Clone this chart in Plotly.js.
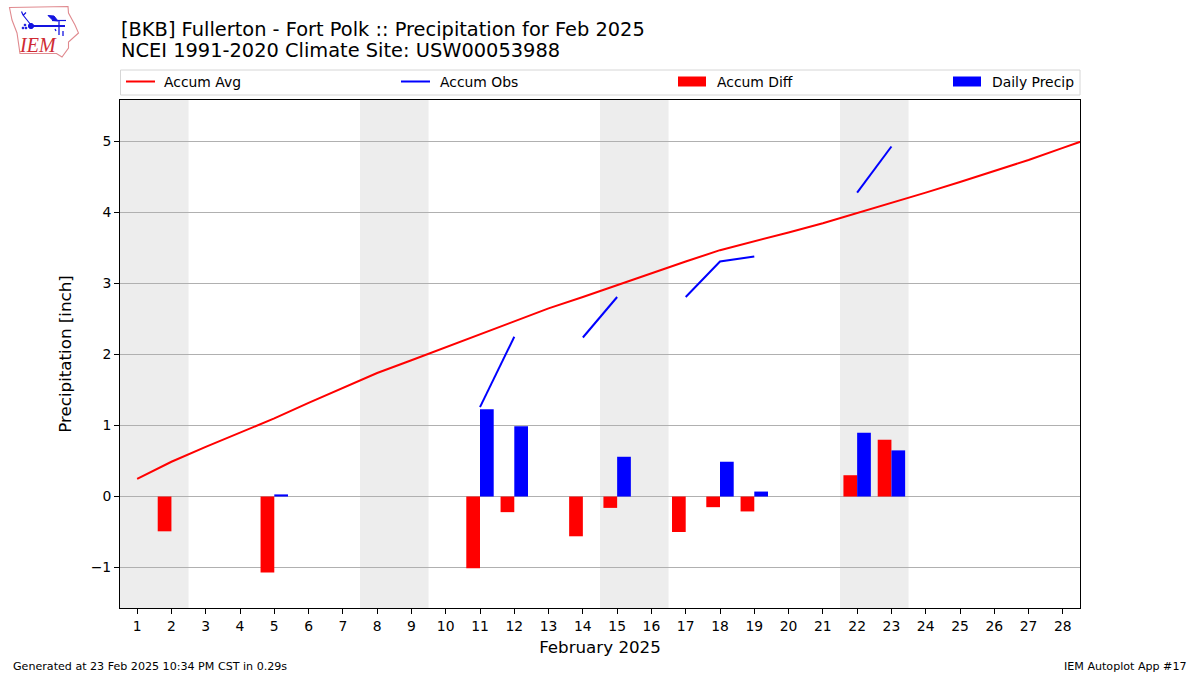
<!DOCTYPE html>
<html>
<head>
<meta charset="utf-8">
<script src="https://cdn.plot.ly/plotly-3.0.1.min.js"></script>
<style>html,body{margin:0;padding:0;background:#fff}#c{width:1200px;height:675px}</style>
</head>
<body>
<div id="c"></div>
<script>
var titleLines = ["[BKB] Fullerton - Fort Polk :: Precipitation for Feb 2025", "NCEI 1991-2020 Climate Site: USW00053988"];
var xTitle = "February 2025";
var yTitle = "Precipitation [inch]";
var footerLeft = "Generated at 23 Feb 2025 10:34 PM CST in 0.29s";
var footerRight = "IEM Autoplot App #17";
var avgDays = [1,2,3,4,5,6,7,8,9,10,11,12,13,14,15,16,17,18,19,20,21,22,23,24,25,26,27,28,29];
var accumAvg = [0.25,0.49,0.70,0.90,1.10,1.32,1.53,1.74,1.92,2.10,2.28,2.47,2.65,2.81,2.98,3.15,3.31,3.47,3.59,3.72,3.85,3.99,4.13,4.28,4.43,4.58,4.74,4.91,5.08];
var obsDays = [11,12,null,14,15,null,17,18,19,null,22,23];
var accumObs = [1.26,2.25,null,2.24,2.81,null,2.81,3.31,3.38,null,4.28,4.93];
var diffDays = [2,5,11,12,14,15,17,18,19,22,23];
var accumDiff = [-0.49,-1.07,-1.01,-0.22,-0.56,-0.16,-0.50,-0.15,-0.21,0.30,0.80];
var precipDays = [5,11,12,15,18,19,22,23];
var dailyPrecip = [0.03,1.23,0.99,0.56,0.49,0.07,0.90,0.65];
var weekendStart = [0.5,7.5,14.5,21.5];
var weekendEnd = [2.5,9.5,16.5,23.5];
var tickDays = [1,2,3,4,5,6,7,8,9,10,11,12,13,14,15,16,17,18,19,20,21,22,23,24,25,26,27,28];
var yTicks = [-1,0,1,2,3,4,5];
var yTickText = ["\u22121","0","1","2","3","4","5"];

var FONT = "DejaVu Sans";
var INK = "#000000";
var L = 120, R = 1080, T = 100, B = 608;
function px(x){ return (x - L) / (R - L); }
function py(y){ return (B - y) / (B - T); }

var traces = [
  {type:"bar", name:"Accum Diff", x:diffDays, y:accumDiff, width:0.4, offset:-0.4, marker:{color:"#ff0000",line:{width:0}}},
  {type:"bar", name:"Daily Precip", x:precipDays, y:dailyPrecip, width:0.4, offset:0, marker:{color:"#0000ff",line:{width:0}}},
  {type:"scatter", mode:"lines", name:"Accum Avg", x:avgDays, y:accumAvg, line:{color:"#ff0000",width:2}},
  {type:"scatter", mode:"lines", name:"Accum Obs", x:obsDays, y:accumObs, connectgaps:false, line:{color:"#0000ff",width:2}}
];

var shapes = [];
weekendStart.forEach(function(s,i){
  shapes.push({type:"rect",layer:"below",xref:"x",yref:"paper",x0:s,x1:weekendEnd[i],y0:0,y1:1,fillcolor:"#ededed",line:{width:0}});
});
// legend frame
shapes.push({type:"rect",layer:"above",xref:"paper",yref:"paper",x0:px(120.5),x1:px(1080),y0:py(95),y1:py(70),
  fillcolor:"#ffffff",line:{color:"#d6d6d6",width:1}});

var legendItems = [
  {label:"Accum Avg", kind:"line", color:"#ff0000", x:126, tx:164},
  {label:"Accum Obs", kind:"line", color:"#0000ff", x:401, tx:440},
  {label:"Accum Diff", kind:"bar", color:"#ff0000", x:678, tx:717},
  {label:"Daily Precip", kind:"bar", color:"#0000ff", x:953, tx:992}
];
var annotations = [];
legendItems.forEach(function(it){
  if (it.kind === "line") {
    shapes.push({type:"line",xref:"paper",yref:"paper",x0:px(it.x),x1:px(it.x+29),y0:py(81.5),y1:py(81.5),line:{color:it.color,width:2}});
  } else {
    shapes.push({type:"rect",xref:"paper",yref:"paper",x0:px(it.x),x1:px(it.x+28),y0:py(86.5),y1:py(76.5),fillcolor:it.color,line:{width:0}});
  }
  annotations.push({xref:"paper",yref:"paper",x:px(it.tx),y:py(81.5),xanchor:"left",yanchor:"middle",showarrow:false,
    text:it.label,font:{family:FONT,size:13.9,color:INK},borderpad:0,borderwidth:0});
});

function note(text,x,y,xa,ya,size,extra){
  var a = {xref:"paper",yref:"paper",x:px(x),y:py(y),xanchor:xa,yanchor:ya,showarrow:false,text:text,
    font:{family:FONT,size:size,color:INK},borderpad:0};
  if (extra) Object.keys(extra).forEach(function(k){a[k]=extra[k];});
  return a;
}
annotations.push(note(titleLines[0],120,29,"left","middle",19.4));
annotations.push(note(titleLines[1],120,51,"left","middle",19.4));
annotations.push(note(footerLeft,12,666,"left","middle",11.1));
annotations.push(note(footerRight,1188,666,"right","middle",11.1));
annotations.push(note("IEM",38,45.5,"center","middle",20,{font:{family:"Liberation Serif",size:20,color:"#cf2a33"},textangle:0}));
annotations[annotations.length-1].text = "<i>IEM</i>";

var logoSvg = '<svg xmlns="http://www.w3.org/2000/svg" width="80" height="60" viewBox="0 0 80 60">' +
  '<path d="M9.5 7.5 L68 6.5 L68.5 13 L75 25 L78.5 33 L68.5 42 L68.5 48 L62 57 L56.5 53.5 L20 53.5 L17 33 L12 20 Z" fill="none" stroke="#e08a8f" stroke-width="1.1"/>' +
  '<g stroke="#1414e0" fill="#1414e0"><path d="M31 26 H65" stroke-width="1.8"/><circle cx="31" cy="26" r="2.6"/>' +
  '<path d="M31 25 L23 15 M23 15 L21.5 11.5 M23.5 15 L26 12.5" stroke-width="1.2" fill="none"/>' +
  '<path d="M48 15.5 L54 16 L58 21 L53 20.5 Z"/><path d="M52 20.5 H66" stroke-width="1.2"/>' +
  '<path d="M59 21 V35 M55 29 L56 31 M63 31 V36" stroke-width="1.3" fill="none"/>' +
  '<circle cx="25" cy="25" r="0.9"/><circle cx="23" cy="28" r="0.9"/><circle cx="26" cy="28" r="0.9"/></g></svg>';

var layout = {
  width:1200, height:675,
  margin:{l:L,r:1200-R,t:T,b:675-B,pad:0},
  paper_bgcolor:"#ffffff", plot_bgcolor:"#ffffff",
  showlegend:false, barmode:"overlay", hovermode:false,
  font:{family:FONT,size:13.9,color:INK},
  xaxis:{range:[0.5,28.5],tickmode:"array",tickvals:tickDays,ticktext:tickDays.map(String),
    ticks:"outside",ticklen:5,tickwidth:1,tickcolor:INK,showgrid:false,zeroline:false,
    showline:true,linecolor:INK,linewidth:1,mirror:true,
    tickfont:{family:FONT,size:13.9,color:INK},
    title:{text:xTitle,font:{family:FONT,size:16.7,color:INK},standoff:8}},
  yaxis:{range:[-1.57,5.585],tickmode:"array",tickvals:yTicks,ticktext:yTickText,
    ticks:"outside",ticklen:5,tickwidth:1,tickcolor:INK,showgrid:true,gridcolor:"#b0b0b0",gridwidth:1,zeroline:false,
    showline:true,linecolor:INK,linewidth:1,mirror:true,
    tickfont:{family:FONT,size:13.9,color:INK},
    title:{text:yTitle,font:{family:FONT,size:16.7,color:INK},standoff:14}},
  shapes:shapes,
  annotations:annotations,
  images:[{source:"data:image/svg+xml;charset=utf-8,"+encodeURIComponent(logoSvg),xref:"paper",yref:"paper",
    x:px(0),y:py(0),sizex:80/960,sizey:60/508,xanchor:"left",yanchor:"top",layer:"above",sizing:"stretch"}]
};
Plotly.newPlot("c",traces,layout,{displayModeBar:false,staticPlot:true});
</script>
</body>
</html>
